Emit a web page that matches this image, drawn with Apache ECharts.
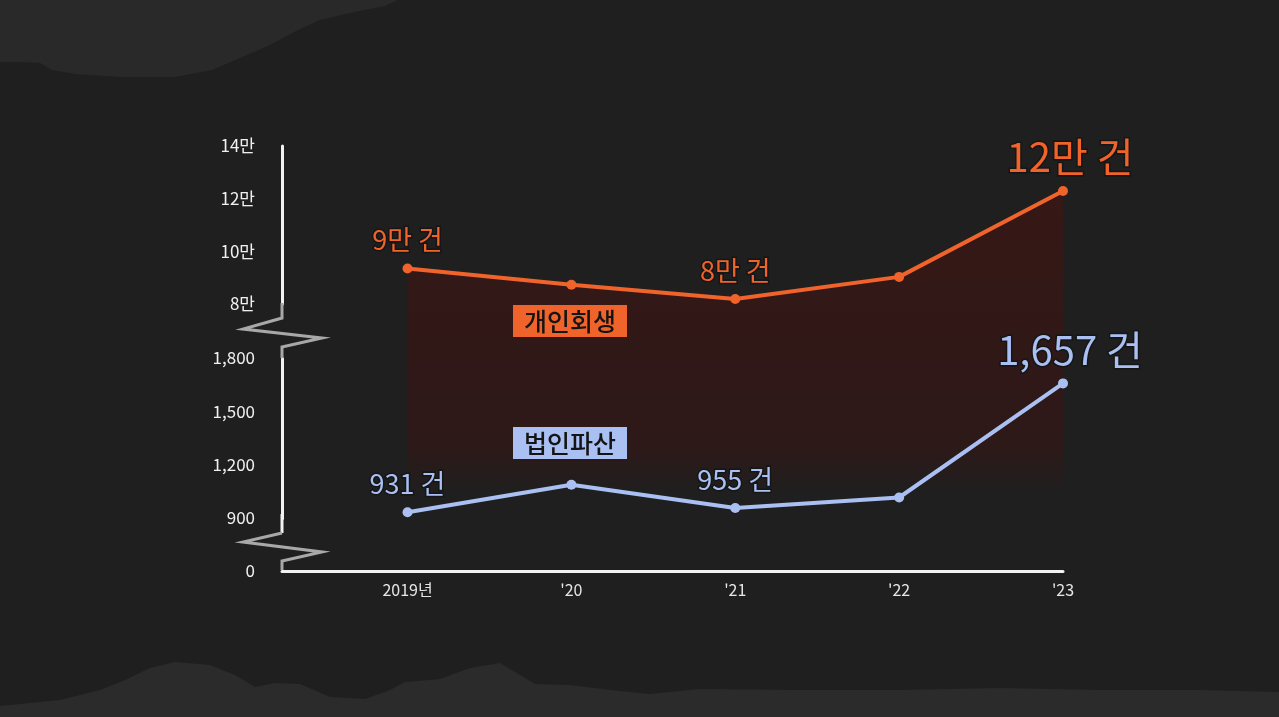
<!DOCTYPE html>
<html><head><meta charset="utf-8">
<script src="https://cdn.jsdelivr.net/npm/echarts@6/dist/echarts.min.js"></script>
<style>html,body{margin:0;padding:0;background:#1f1f1f}#c{width:1279px;height:717px}</style>
</head><body><div id="c"></div>
<script>
// ---- data ----
const years = ['2019년', "'20", "'21", "'22", "'23"];
const seriesNames = ['개인회생', '법인파산'];
const personal = [93500, 87300, 81900, 90300, 122900];
const corporate = [931, 1086, 955, 1014, 1657];
const personalNotes = ['9만 건', '', '8만 건', '', '12만 건'];
const corporateNotes = ['931 건', '', '955 건', '', '1,657 건'];
const topAxis = { min: 80000, max: 140000, interval: 20000 };
const bottomAxis = { min: 0, max: 1800, interval: 300, breakStart: 0, breakEnd: 900 };

// ---- styles ----
const ORANGE = '#f0632a';
const BLUE = '#aac0f2';
const AXIS = '#f2f2f2';
const BG = '#1f1f1f';
const FONT = "'Noto Sans CJK KR', 'Noto Sans', sans-serif";

function pts(arr, notes, color) {
  return arr.map((v, i) => {
    const big = i === arr.length - 1;
    return {
      value: [i, v],
      label: {
        show: !!notes[i],
        formatter: notes[i],
        position: 'top',
        distance: big ? 9 : 10,
        offset: big ? [7, 0] : [0, 0],
        color: color,
        fontFamily: FONT,
        fontSize: big ? 40 : 27,
        lineHeight: big ? 40 : 27,
        textBorderColor: '#161616',
        textBorderWidth: 3
      }
    };
  });
}

const chart = echarts.init(document.getElementById('c'), null, { renderer: 'canvas' });
const xCommon = { type: 'value', min: -0.766, max: 4 };
const yLabel = { color: '#f0f0f0', fontSize: 17, fontFamily: FONT, margin: 27 };

chart.setOption({
  backgroundColor: BG,
  animation: false,
  grid: [
    { left: 282, right: 216, top: 146, height: 158 },
    { left: 282, right: 216, top: 358, height: 213 }
  ],
  xAxis: [
    Object.assign({ gridIndex: 0, show: false }, xCommon),
    Object.assign({
      gridIndex: 1,
      axisLine: { show: true, onZero: false, lineStyle: { color: AXIS, width: 3 } },
      axisTick: { show: false },
      splitLine: { show: false },
      axisLabel: {
        customValues: [0, 1, 2, 3, 4],
        formatter: v => years[Math.round(v)],
        margin: 11, color: '#e6e6e6', fontSize: 16, fontFamily: FONT
      }
    }, xCommon)
  ],
  yAxis: [
    {
      gridIndex: 0, type: 'value',
      min: topAxis.min, max: topAxis.max, interval: topAxis.interval,
      axisLine: { show: true, onZero: false, lineStyle: { color: AXIS, width: 3 } },
      axisTick: { show: false }, splitLine: { show: false },
      axisLabel: Object.assign({ formatter: v => (v / 10000) + '만' }, yLabel)
    },
    {
      gridIndex: 1, type: 'value',
      min: bottomAxis.min, max: bottomAxis.max, interval: bottomAxis.interval,
      breaks: [{ start: bottomAxis.breakStart, end: bottomAxis.breakEnd, gap: 300 }],
      breakArea: { show: false },
      axisLine: { show: true, onZero: false, lineStyle: { color: AXIS, width: 3 } },
      axisTick: { show: false }, splitLine: { show: false },
      axisLabel: Object.assign({ formatter: v => v.toLocaleString('en-US') }, yLabel)
    }
  ],
  legend: [
    {
      data: [seriesNames[0]], left: 508, top: 305, padding: 0, icon: 'none',
      itemWidth: 0, itemHeight: 0, selectedMode: false,
      textStyle: { backgroundColor: ORANGE, color: '#141414', fontSize: 25, fontFamily: FONT, fontWeight: 500, padding: [4, 11, 3, 11] }
    },
    {
      data: [seriesNames[1]], left: 508, top: 427, padding: 0, icon: 'none',
      itemWidth: 0, itemHeight: 0, selectedMode: false,
      textStyle: { backgroundColor: BLUE, color: '#141414', fontSize: 25, fontFamily: FONT, fontWeight: 500, padding: [4, 11, 3, 11] }
    }
  ],
  graphic: [
    { type: 'polygon', z: -10, silent: true,
      shape: { points: [[0,0],[398,0],[385,6],[350,13],[320,20],[298,30],[270,45],[240,58],[212,70],[175,77],[120,77],[75,74],[52,70],[40,63],[20,62],[0,62]] },
      style: { fill: '#292929' } },
    { type: 'polygon', z: -10, silent: true,
      shape: { points: [[0,717],[0,706],[60,700],[100,690],[125,680],[150,668],[175,662],[210,665],[235,675],[255,687],[275,683],[300,684],[330,697],[365,699],[390,690],[405,682],[440,679],[470,668],[500,663],[515,672],[535,684],[570,685],[610,690],[650,694],[700,689],[800,690],[900,690],[1000,688],[1100,690],[1200,690],[1279,692],[1279,717]] },
      style: { fill: '#2b2b2b' } },
    { type: 'polyline', z: 51, silent: true,
      shape: { points: [[282,514],[282,533]] },
      style: { stroke: AXIS, lineWidth: 3, fill: null } },
    { type: 'polyline', z: 51, silent: true,
      shape: { points: [[282,303],[282,318],[243,329],[322,338],[282,347],[282,358]] },
      style: { stroke: '#a8a8a8', lineWidth: 3, fill: null } },
    { type: 'polyline', z: 51, silent: true,
      shape: { points: [[282,533],[243,542],[322,552],[282,561],[282,570]] },
      style: { stroke: '#a8a8a8', lineWidth: 3, fill: null } }
  ],
  series: [
    {
      name: seriesNames[0], type: 'line', xAxisIndex: 0, yAxisIndex: 0,
      data: pts(personal, personalNotes, ORANGE),
      symbol: 'circle', symbolSize: 10, clip: false, z: 2,
      lineStyle: { color: ORANGE, width: 4 },
      itemStyle: { color: ORANGE },
      areaStyle: {
        origin: 9500,
        color: new echarts.graphic.LinearGradient(0, 0, 0, 1, [
          { offset: 0, color: 'rgba(110,6,0,0.42)' },
          { offset: 0.85, color: 'rgba(90,5,0,0.34)' },
          { offset: 1, color: 'rgba(90,5,0,0.04)' }
        ])
      }
    },
    {
      name: seriesNames[1], type: 'line', xAxisIndex: 1, yAxisIndex: 1,
      data: pts(corporate, corporateNotes, BLUE),
      symbol: 'circle', symbolSize: 10, clip: false, z: 3,
      lineStyle: { color: BLUE, width: 4 },
      itemStyle: { color: BLUE }
    }
  ]
});
</script>
</body></html>
